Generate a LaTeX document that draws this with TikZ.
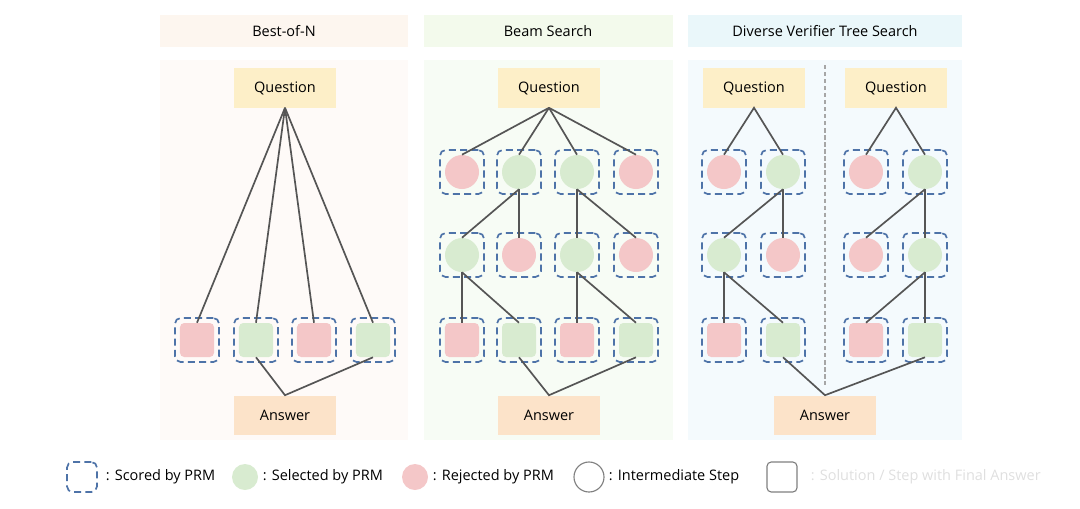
\documentclass[tikz,border=0pt]{standalone}
\usepackage{fontspec}
\setmainfont{Open Sans}
\begin{document}
\begin{tikzpicture}[x=0.025cm, y=-0.025cm,
        font=\fontsize{10.3}{12}\selectfont,
        edge/.style={draw=linegrey, line width=1.2pt},
        scored/.style={draw=dashblue, line width=1.2pt, dash pattern=on 5pt off 3pt, rounded corners=4pt, minimum size=1.1cm, inner sep=0pt},
        selci/.style={circle, fill=selgreen, minimum size=0.85cm, inner sep=0pt},
        rejci/.style={circle, fill=rejred, minimum size=0.85cm, inner sep=0pt},
        selsq/.style={fill=selgreen, rounded corners=3pt, minimum size=0.85cm, inner sep=0pt},
        rejsq/.style={fill=rejred, rounded corners=3pt, minimum size=0.85cm, inner sep=0pt},
        qbox/.style={fill=qyellow, minimum width=2.55cm, minimum height=0.975cm},
        abox/.style={fill=apeach, minimum width=2.55cm, minimum height=0.975cm}]
        \definecolor{linegrey}{RGB}{85,85,85}
        \definecolor{dashblue}{RGB}{78,115,168}
        \definecolor{selgreen}{RGB}{216,235,208}
        \definecolor{rejred}{RGB}{244,199,200}
        \definecolor{qyellow}{RGB}{253,239,200}
        \definecolor{apeach}{RGB}{252,227,201}
        \definecolor{bonhead}{RGB}{253,246,239}
        \definecolor{bonbody}{RGB}{254,250,248}
        \definecolor{bmhead}{RGB}{243,250,236}
        \definecolor{bmbody}{RGB}{247,252,245}
        \definecolor{dvhead}{RGB}{234,247,250}
        \definecolor{dvbody}{RGB}{244,250,253}

        \useasboundingbox (0,0) rectangle (1080,508);

        % panels
        \fill[bonhead] (160,15) rectangle (408,47);
        \fill[bonbody] (160,60) rectangle (408,440);
        \fill[bmhead] (424,15) rectangle (673,47);
        \fill[bmbody] (424,60) rectangle (673,440);
        \fill[dvhead] (688,15) rectangle (962,47);
        \fill[dvbody] (688,60) rectangle (962,440);
        \node (bontitle) at (284,31) {Best-of-N};
        \node (bmtitle) at (548,31) {Beam Search};
        \node (dvtitle) at (825,31) {Diverse Verifier Tree Search};
        \draw[gray!70, line width=0.8pt, dash pattern=on 3pt off 2pt] (825,65) -- (825,385);

        % Best-of-N
        \node[qbox] (bonq) at (285,88) {Question};
        \node[abox] (bona) at (285,415) {Answer};
        \foreach \x/\n/\t in {197/1/rejsq, 256/2/selsq, 314/3/rejsq, 373/4/selsq}{
            \node[scored] (bonf\n) at (\x,340) {};
            \node[\t] (bons\n) at (\x,340) {};
            \draw[edge] (bonq.south) -- (bons\n.north);
        }
        \draw[edge] (bons2.south) -- (bona.north) -- (bons4.south);

        % Beam Search
        \node[qbox] (bmq) at (549,88) {Question};
        \node[abox] (bma) at (549,415) {Answer};
        \foreach \x/\n/\t/\u/\v in {462/1/rejci/selci/rejsq, 519/2/selci/rejci/selsq, 577/3/selci/selci/rejsq, 636/4/rejci/rejci/selsq}{
            \node[scored] (bmf1\n) at (\x,172) {};
            \node[\t] (bmc1\n) at (\x,172) {};
            \node[scored] (bmf2\n) at (\x,255) {};
            \node[\u] (bmc2\n) at (\x,255) {};
            \node[scored] (bmf3\n) at (\x,340) {};
            \node[\v] (bms\n) at (\x,340) {};
            \draw[edge] (bmq.south) -- (bmc1\n.north);
        }
        \draw[edge] (bmc12.south) -- (bmc21.north);
        \draw[edge] (bmc12.south) -- (bmc22.north);
        \draw[edge] (bmc13.south) -- (bmc23.north);
        \draw[edge] (bmc13.south) -- (bmc24.north);
        \draw[edge] (bmc21.south) -- (bms1.north);
        \draw[edge] (bmc21.south) -- (bms2.north);
        \draw[edge] (bmc23.south) -- (bms3.north);
        \draw[edge] (bmc23.south) -- (bms4.north);
        \draw[edge] (bms2.south) -- (bma.north) -- (bms4.south);

        % Diverse Verifier Tree Search
        \node[qbox] (dvq1) at (754,88) {Question};
        \node[qbox] (dvq2) at (896,88) {Question};
        \node[abox] (dva) at (825,415) {Answer};
        \foreach \x/\n/\t/\u/\v in {724/1/rejci/selci/rejsq, 783/2/selci/rejci/selsq, 866/3/rejci/rejci/rejsq, 925/4/selci/selci/selsq}{
            \node[scored] (dvf1\n) at (\x,172) {};
            \node[\t] (dvc1\n) at (\x,172) {};
            \node[scored] (dvf2\n) at (\x,255) {};
            \node[\u] (dvc2\n) at (\x,255) {};
            \node[scored] (dvf3\n) at (\x,340) {};
            \node[\v] (dvs\n) at (\x,340) {};
        }
        \draw[edge] (dvc11.north) -- (dvq1.south) -- (dvc12.north);
        \draw[edge] (dvc13.north) -- (dvq2.south) -- (dvc14.north);
        \draw[edge] (dvc12.south) -- (dvc21.north);
        \draw[edge] (dvc12.south) -- (dvc22.north);
        \draw[edge] (dvc14.south) -- (dvc23.north);
        \draw[edge] (dvc14.south) -- (dvc24.north);
        \draw[edge] (dvc21.south) -- (dvs1.north);
        \draw[edge] (dvc21.south) -- (dvs2.north);
        \draw[edge] (dvc24.south) -- (dvs3.north);
        \draw[edge] (dvc24.south) -- (dvs4.north);
        \draw[edge] (dvs2.south) -- (dva.north) -- (dvs4.south);

        % legend
        \node[scored, minimum size=0.75cm] (legscored) at (82,477) {};
        \node[anchor=west] (legscoredtxt) at (101,477) {: Scored by PRM};
        \node[circle, fill=selgreen, minimum size=0.65cm, inner sep=0pt] (legsel) at (245,477) {};
        \node[anchor=west] (legseltxt) at (258,477) {: Selected by PRM};
        \node[circle, fill=rejred, minimum size=0.65cm, inner sep=0pt] (legrej) at (415,477) {};
        \node[anchor=west] (legrejtxt) at (428,477) {: Rejected by PRM};
        \node[circle, draw=gray, line width=0.8pt, minimum size=0.75cm, inner sep=0pt] (legstep) at (589,477) {};
        \node[anchor=west] (legsteptxt) at (604,477) {: Intermediate Step};
        \node[draw=gray, line width=0.8pt, rounded corners=3pt, minimum size=0.75cm, inner sep=0pt] (legfinal) at (782,477) {};
        \node[anchor=west, text=gray!25] (legfinaltxt) at (806,477) {: Solution / Step with Final Answer};
    \end{tikzpicture}
\end{document}
